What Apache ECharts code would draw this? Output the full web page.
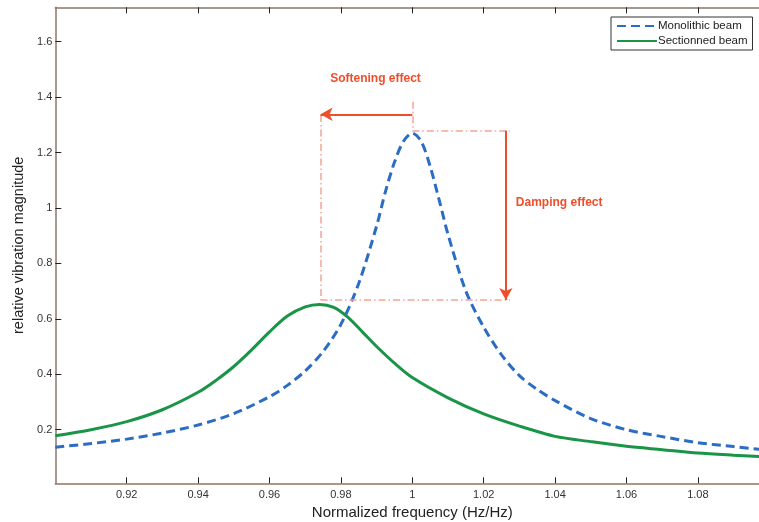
<!DOCTYPE html>
<html><head><meta charset="utf-8">
<script src="https://cdn.jsdelivr.net/npm/echarts@6/dist/echarts.min.js"></script>
<style>html,body{margin:0;padding:0;background:#fff}#c{width:759px;height:522px}</style>
</head><body><div id="c"></div>
<script>
// ---- data ----
const freqMono = [0.90,0.91,0.92,0.93,0.94,0.95,0.96,0.965,0.97,0.975,0.98,0.985,0.99,0.9925,0.995,0.9975,1.0,1.0025,1.005,1.0075,1.01,1.015,1.02,1.025,1.03,1.035,1.04,1.05,1.06,1.07,1.08,1.09,1.1];
const magMono  = [0.137,0.150,0.166,0.188,0.217,0.258,0.319,0.360,0.412,0.482,0.580,0.728,0.935,1.06,1.165,1.240,1.270,1.240,1.150,1.030,0.905,0.700,0.570,0.470,0.395,0.345,0.305,0.240,0.200,0.175,0.153,0.139,0.125];
const freqSect = [0.90,0.91,0.92,0.93,0.94,0.945,0.95,0.955,0.96,0.965,0.97,0.974,0.978,0.982,0.986,0.99,0.995,1.0,1.01,1.02,1.03,1.04,1.05,1.06,1.07,1.08,1.09,1.1];
const magSect  = [0.178,0.200,0.229,0.272,0.335,0.378,0.428,0.488,0.553,0.610,0.643,0.652,0.641,0.605,0.553,0.500,0.440,0.388,0.315,0.257,0.213,0.176,0.157,0.140,0.128,0.116,0.108,0.101];
const xTicks = [0.92,0.94,0.96,0.98,1,1.02,1.04,1.06,1.08];
const yTicks = [0.2,0.4,0.6,0.8,1,1.2,1.4,1.6];
const seriesNames = ['Monolithic beam','Sectionned beam'];
// annotation anchor values (data units)
const peakMono = [1.0, 1.279];
const peakSect = [0.9743, 0.668];
const dampX = 1.0262, boxRight = 1.0274;
const softArrowY = 1.338, softTopY = 1.335, peakTopY = 1.383;
const annoText = {soft:'Softening effect', damp:'Damping effect'};
const softTextPos = [0.9897, 1.468], dampTextPos = [1.0290, 1.018];

const pair = (xs, ys) => xs.map((x,i)=>[x, ys[i]]);
const axisCol = '#8f7565';
const red = '#f04e2a', pink = '#f6a394';
const dashDot = {color: pink, width: 1.5, type: [7,3,1.5,3]};
const arrowStyle = {color: red, width: 2, type: 'solid'};

const chart = echarts.init(document.getElementById('c'));
chart.setOption({
  animation: false,
  textStyle: {fontFamily: 'Liberation Sans, Arial, sans-serif'},
  grid: {left: 55.3, top: 7.3, right: -10.3, bottom: 38.7, outerBoundsMode: 'none', containLabel: false},
  legend: {
    orient: 'vertical', left: 611, top: 17, itemWidth: 40, itemHeight: 10, itemGap: 3,
    padding: [3,5,3,5], borderColor: '#333', borderWidth: 1, backgroundColor: '#fff',
    itemStyle: {opacity: 0},
    textStyle: {fontSize: 11.5, color: '#222', padding: [0,0,0,-4]},
    data: seriesNames
  },
  xAxis: [{
    type: 'value', min: 0.9, max: 1.1, position: 'bottom',
    name: 'Normalized frequency (Hz/Hz)', nameLocation: 'middle', nameGap: 19,
    nameTextStyle: {fontSize: 15, color: '#222'},
    axisLine: {lineStyle: {color: axisCol, width: 1.5}},
    axisTick: {inside: true, length: 6, customValues: xTicks, lineStyle: {color: '#222'}},
    axisLabel: {customValues: xTicks, fontSize: 11, color: '#333', margin: 6},
    splitLine: {show: false}
  },{
    type: 'value', min: 0.9, max: 1.1, position: 'top',
    axisLine: {lineStyle: {color: axisCol, width: 1.5}},
    axisTick: {inside: true, length: 6, customValues: xTicks, lineStyle: {color: '#222'}},
    axisLabel: {show: false}, splitLine: {show: false}
  }],
  yAxis: {
    type: 'value', min: 0.0066, max: 1.724,
    name: 'relative vibration magnitude', nameLocation: 'middle', nameGap: 23,
    nameTextStyle: {fontSize: 14.5, color: '#222'},
    axisLine: {show: true, lineStyle: {color: axisCol, width: 1.5}},
    axisTick: {show: true, inside: true, length: 6, customValues: yTicks, lineStyle: {color: '#222'}},
    axisLabel: {customValues: yTicks, fontSize: 11, color: '#333', margin: 3},
    splitLine: {show: false}
  },
  series: [{
    name: seriesNames[0], type: 'line', smooth: 0.3, symbol: 'none',
    data: pair(freqMono, magMono), z: 3,
    lineStyle: {color: '#2b6cc4', width: 3, type: [9,5]},
    itemStyle: {color: '#2b6cc4'},
    markLine: {
      silent: true, symbol: 'none', animation: false, label: {show: false},
      data: [
        [{coord: [peakSect[0], softTopY], lineStyle: dashDot}, {coord: [peakSect[0], peakSect[1]]}],
        [{coord: [peakMono[0], peakTopY], lineStyle: dashDot}, {coord: [peakMono[0], peakMono[1]]}],
        [{coord: [peakMono[0], peakMono[1]], lineStyle: dashDot}, {coord: [boxRight, peakMono[1]]}],
        [{coord: [peakSect[0], peakSect[1]], lineStyle: dashDot}, {coord: [boxRight, peakSect[1]]}],
        [{coord: [peakMono[0], softArrowY], lineStyle: arrowStyle, symbol: 'none'}, {coord: [peakSect[0], softArrowY], symbol: 'arrow', symbolSize: [10,12]}],
        [{coord: [dampX, peakMono[1]], lineStyle: arrowStyle, symbol: 'none'}, {coord: [dampX, peakSect[1]], symbol: 'arrow', symbolSize: [10,12]}]
      ]
    },
    markPoint: {
      silent: true, symbol: 'circle', symbolSize: 0,
      data: [
        {coord: softTextPos, label: {show: true, position: 'inside', formatter: annoText.soft, color: red, fontWeight: 'bold', fontSize: 12}},
        {coord: dampTextPos, label: {show: true, position: 'right', distance: 0, formatter: annoText.damp, color: red, fontWeight: 'bold', fontSize: 12}}
      ]
    }
  },{
    name: seriesNames[1], type: 'line', smooth: 0.3, symbol: 'none',
    data: pair(freqSect, magSect), z: 2,
    lineStyle: {color: '#1a9447', width: 3},
    itemStyle: {color: '#1a9447'}
  }]
});
</script></body></html>
